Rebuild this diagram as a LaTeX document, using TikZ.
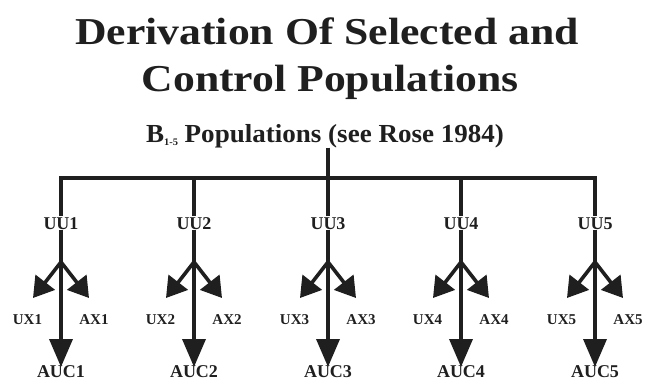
\documentclass[tikz,border=0pt]{standalone}
\usepackage{fontspec}
\setmainfont{Liberation Serif}
\usepackage{graphicx}
\usetikzlibrary{arrows.meta}
\begin{document}
\begin{tikzpicture}[x=1pt,y=-1pt,
  conn/.style={line width=3.6pt, draw=black!88},
  bigtip/.style={-{Triangle[length=28pt,width=23pt]}},
  sidetip/.style={-{Triangle[length=20pt,width=24pt]}},
  titletext/.style={anchor=base, inner sep=0pt, font=\bfseries\fontsize{38}{45}\selectfont, text=black!88},
  subtext/.style={anchor=base, inner sep=0pt, font=\bfseries\fontsize{26}{30}\selectfont, text=black!88},
  lab/.style={anchor=base, inner sep=1pt, font=\bfseries\fontsize{18}{18}\selectfont, text=black!88},
  smalllab/.style={anchor=base, inner sep=1pt, font=\bfseries\fontsize{15}{15}\selectfont, text=black!88}]
\useasboundingbox (0,0) rectangle (645,381);

\node[titletext] (title1) at (327,44) {\scalebox{1.15}[1]{Derivation Of Selected and}};
\node[titletext] (title2) at (330,91) {\scalebox{1.15}[1]{Control Populations}};
\node[subtext] (sub) at (325,142) {\scalebox{1.04}[1]{B\raisebox{-3pt}{\fontsize{10}{10}\selectfont 1-5} Populations (see Rose 1984)}};

\coordinate (hub) at (328,178);
\draw[conn] (sub.south -| hub) -- (hub);

\foreach \i/\x in {1/61,2/194,3/328,4/461,5/595}{
  \coordinate (top\i) at (\x,178);
  \coordinate (br\i) at (\x,262);
  \node[lab] (UU\i) at (\x,229) {UU\i};
  \node[smalllab] (UX\i) at (\x-33.5,324) {UX\i};
  \node[smalllab] (AX\i) at (\x+33,324) {AX\i};
  \node[lab] (AUC\i) at (\x,377.5) {AUC\i};
  \coordinate (uxt\i) at (\x-28,298);
  \coordinate (axt\i) at (\x+28,298);
  \coordinate (auct\i) at (\x,367);
  \draw[conn] (top\i) -- (UU\i.north);
  \draw[conn] (UU\i.south) -- (br\i);
  \draw[conn,sidetip] (br\i) -- (uxt\i);
  \draw[conn,sidetip] (br\i) -- (axt\i);
  \draw[conn,bigtip] (br\i) -- (auct\i);
}
\draw[conn, line cap=rect] (top1) -- (top5);
\end{tikzpicture}
\end{document}
